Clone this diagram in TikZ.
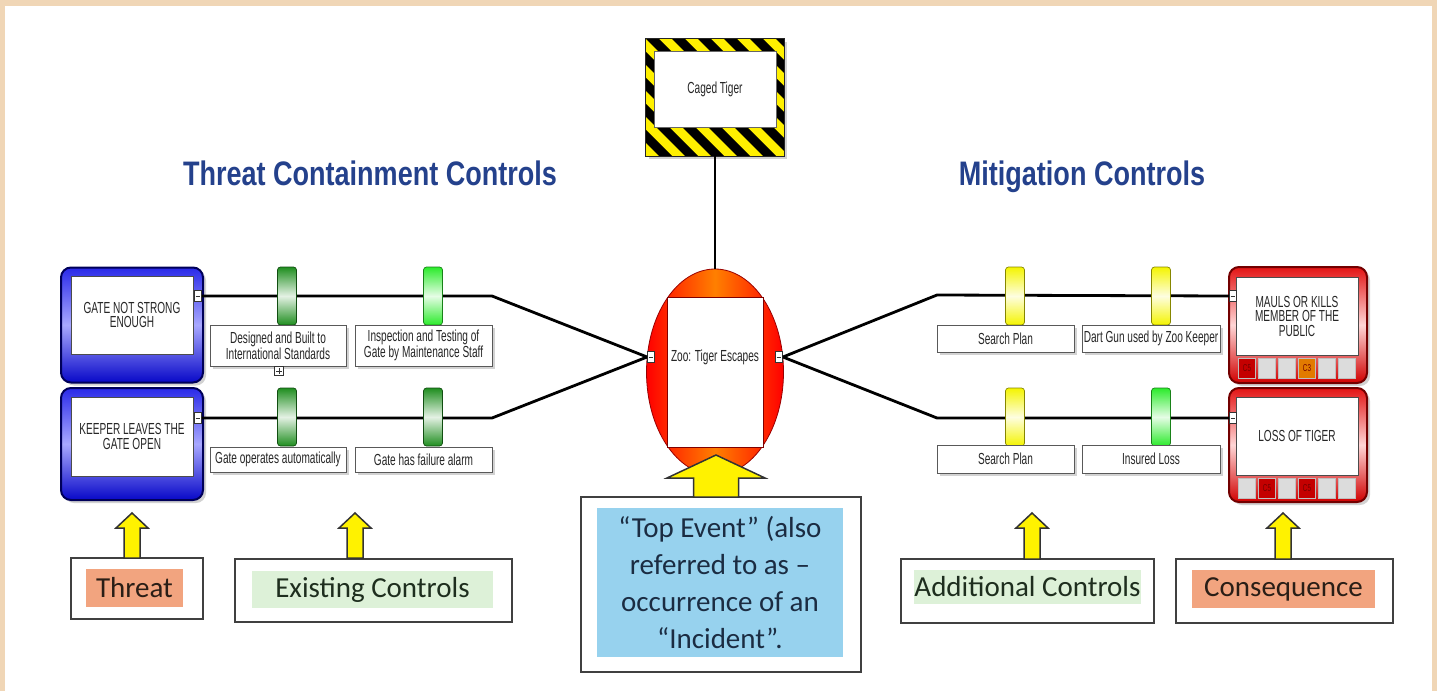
\documentclass[tikz,border=0pt]{standalone}
\usepackage{fontspec}
\setmainfont{Liberation Sans}
\newfontfamily\narfont[FakeStretch=0.63]{Liberation Sans}
\newfontfamily\ttlfont[FakeStretch=0.795]{Liberation Sans}
\newfontfamily\lblfont{Carlito}
\usetikzlibrary{shadows,shapes.geometric,calc}
\definecolor{beige}{HTML}{F0D6B6}
\definecolor{ttlblue}{HTML}{24418C}
\definecolor{salmon}{HTML}{F2A47F}
\definecolor{paleg}{HTML}{DDF1D8}
\definecolor{skyb}{HTML}{97D2EE}
\definecolor{navy}{HTML}{1B2C42}
\definecolor{dgreen}{HTML}{1F8E1F}
\definecolor{bgreen}{HTML}{2BEB2B}
\definecolor{yel}{HTML}{F4F400}
\definecolor{hazy}{HTML}{FFF000}
\definecolor{tblue}{HTML}{2A2AE8}
\definecolor{tbluelt}{HTML}{A8A8FF}
\definecolor{tbluedk}{HTML}{0808C8}
\definecolor{cred}{HTML}{E31414}
\definecolor{credlt}{HTML}{FFD6D6}
\definecolor{creddk}{HTML}{D00000}
\definecolor{cellg}{HTML}{DCDCDC}
\definecolor{cellr}{HTML}{C40000}
\definecolor{cello}{HTML}{E27A00}
\definecolor{lbldark}{HTML}{2A1E16}
\definecolor{lblgreen}{HTML}{1E2E1E}
\tikzset{
  smalltxt/.style={font=\narfont\fontsize{16}{14.5}\selectfont, align=center, text=black!85},
  ctrlbox/.style={smalltxt, draw=black!65, line width=0.9pt, fill=white, inner sep=0pt,
     drop shadow={shadow xshift=2.5pt, shadow yshift=-2.5pt, opacity=0.35}},
  barrier/.style={draw=#1!55!black, line width=0.7pt, rounded corners=3pt, minimum width=19pt,
     minimum height=58pt, inner sep=0pt, top color=#1, bottom color=#1, middle color=#1!12!white},
  link/.style={line width=2.8pt, black},
  port/.style={draw=black!80, fill=white, minimum width=7pt, minimum height=11pt, inner sep=0pt,
     line width=0.8pt, path picture={\draw[line width=0.7pt]
     ([xshift=1.2pt]path picture bounding box.west) -- ([xshift=-1.2pt]path picture bounding box.east);}},
  threatbox/.style={draw=blue!35!black, line width=2pt, rounded corners=10pt, minimum width=142pt,
     top color=tblue, bottom color=tbluedk, middle color=tbluelt, inner sep=0pt,
     drop shadow={shadow xshift=3pt, shadow yshift=-3pt, opacity=0.35}},
  consbox/.style={draw=red!45!black, line width=2pt, rounded corners=10pt, minimum width=138pt,
     top color=cred, bottom color=creddk, middle color=credlt, inner sep=0pt,
     drop shadow={shadow xshift=3pt, shadow yshift=-3pt, opacity=0.35}},
  innerw/.style={smalltxt, draw=black!70, line width=0.8pt, fill=white, minimum width=122pt,
     minimum height=78pt, inner sep=0pt},
  cell/.style={minimum width=17pt, minimum height=20pt, inner sep=0pt, fill=#1, draw=black!25,
     line width=0.5pt, font=\narfont\fontsize{10}{10}\selectfont, text=black!55!red},
  ttl/.style={font=\ttlfont\bfseries\fontsize{34}{34}\selectfont, text=ttlblue, inner sep=0pt},
  lblbox/.style={draw=black!75, line width=1.5pt, fill=white, inner sep=0pt},
  lbltext/.style={font=\lblfont\fontsize{29}{37}\selectfont, inner sep=0pt, align=center},
  blockarrow/.style={fill=yellow, draw=black!80, line width=1.5pt, line join=miter},
}
\begin{document}
\begin{tikzpicture}[x=1pt,y=-1pt]
\useasboundingbox (0,0) rectangle (1437,691);
\fill[beige] (0,0) rectangle (1437,691);
\fill[white] (5,6) rectangle (1432,691);

% titles
\node[ttl, anchor=base] (ttlL) at (370,185) {Threat Containment Controls};
\node[ttl, anchor=base] (ttlR) at (1082,185) {Mitigation Controls};

% caged tiger (hazard)
\node[fill=hazy, minimum width=138pt, minimum height=117pt, inner sep=0pt,
      drop shadow={shadow xshift=3pt, shadow yshift=-3pt, opacity=0.35}] (caged) at (715,97.5) {};
\begin{scope}
  \clip (caged.north west) rectangle (caged.south east);
  \foreach \i in {0,...,11}
    \fill[black] ($(caged.north west)+(\i*26-130,0)$) -- ++(13,0) -- ++(130,130) -- ++(-13,0) -- cycle;
\end{scope}
\draw[black!85, line width=1pt] (caged.north west) rectangle (caged.south east);
\node[smalltxt, fill=white, draw=black!60, line width=0.6pt, minimum width=122pt, minimum height=76pt,
      inner sep=0pt] (cagedin) at (715,89) {Caged Tiger};

% top event ellipse
\node[ellipse, minimum width=137pt, minimum height=206pt, draw=red!60!black, line width=0.8pt,
      left color=red, right color=red, middle color=orange, inner sep=0pt] (ell) at (715,372) {};
\node[fill=white, draw=red!50!black, line width=0.8pt, minimum width=96pt, minimum height=150pt,
      inner sep=0pt] (ellin) at (715,372) {};
\node[smalltxt] (topev) at (715,357) {Zoo: Tiger Escapes};
\draw[link] (caged.south) -- (ell.north);

% threat boxes
\node[threatbox, minimum height=115pt] (thr1) at (132,325) {};
\node[innerw] (thr1in) at (132,315) {GATE NOT STRONG\\ENOUGH};
\node[threatbox, minimum height=112pt] (thr2) at (132,444) {};
\node[innerw, minimum height=79pt] (thr2in) at (132,436.5) {KEEPER LEAVES THE\\GATE OPEN};

% consequence boxes
\node[consbox, minimum height=116pt] (con1) at (1298,325) {};
\node[innerw] (con1in) at (1297,316) {MAULS OR KILLS\\MEMBER OF THE\\PUBLIC};
\node[consbox, minimum height=114pt] (con2) at (1298,445) {};
\node[innerw] (con2in) at (1297,436) {LOSS OF TIGER};
\node[cell=cellr] (c1a) at (1247,368) {C5};
\node[cell=cellg] (c1b) at (1267,368) {};
\node[cell=cellg] (c1c) at (1287,368) {};
\node[cell=cello] (c1d) at (1307,368) {C3};
\node[cell=cellg] (c1e) at (1327,368) {};
\node[cell=cellg] (c1f) at (1347,368) {};
\node[cell=cellg] (c2a) at (1247,488) {};
\node[cell=cellr] (c2b) at (1267,488) {C5};
\node[cell=cellg] (c2c) at (1287,488) {};
\node[cell=cellr] (c2d) at (1307,488) {C5};
\node[cell=cellg] (c2e) at (1327,488) {};
\node[cell=cellg] (c2f) at (1347,488) {};

% ports
\node[port] (pT1) at (198,296) {};
\node[port] (pT2) at (198,418) {};
\node[port] (pEL) at (651,357) {};
\node[port] (pER) at (779,357) {};
\node[port] (pC1) at (1233,296) {};
\node[port] (pC2) at (1233,418) {};

% bend points
\coordinate (kL1) at (492,296);
\coordinate (kL2) at (492,418);
\coordinate (kR1) at (937,295);
\coordinate (kR2) at (937,418);

% links
\draw[link] (pT1.east) -- (kL1) -- (pEL.west);
\draw[link] (pT2.east) -- (kL2) -- (pEL.west);
\draw[link] (pER.east) -- (kR1) -- (pC1.west);
\draw[link] (pER.east) -- (kR2) -- (pC2.west);

% barriers
\node[barrier=dgreen] (bL1) at (287,296) {};
\node[barrier=bgreen] (bL2) at (433,296) {};
\node[barrier=dgreen] (bL3) at (287,417) {};
\node[barrier=dgreen] (bL4) at (433,417) {};
\node[barrier=yel] (bR1) at (1015,296) {};
\node[barrier=yel] (bR2) at (1161,296) {};
\node[barrier=yel] (bR3) at (1015,417) {};
\node[barrier=bgreen] (bR4) at (1161,417) {};

% control labels
\node[ctrlbox, minimum width=136pt, minimum height=41pt] (cL1) at (278,345.5) {Designed and Built to\\International Standards};
\node[ctrlbox, minimum width=137pt, minimum height=41pt] (cL2) at (423.5,345.5) {Inspection and Testing of\\Gate by Maintenance Staff};
\node[ctrlbox, minimum width=136pt, minimum height=25pt] (cL3) at (278,459.5) {Gate operates automatically};
\node[ctrlbox, minimum width=137pt, minimum height=25pt] (cL4) at (423.5,459.5) {Gate has failure alarm};
\node[ctrlbox, minimum width=137pt, minimum height=27pt] (cR1) at (1005.5,338.5) {Search Plan};
\node[ctrlbox, minimum width=138pt, minimum height=27pt] (cR2) at (1151,338.5) {Dart Gun used by Zoo Keeper};
\node[ctrlbox, minimum width=137pt, minimum height=28pt] (cR3) at (1005.5,459) {Search Plan};
\node[ctrlbox, minimum width=138pt, minimum height=28pt] (cR4) at (1151,459) {Insured Loss};
\node[draw=black!80, fill=white, minimum size=9pt, inner sep=0pt, line width=0.7pt,
      path picture={\draw[line width=0.7pt] ([xshift=1.5pt]path picture bounding box.west) -- ([xshift=-1.5pt]path picture bounding box.east);
                    \draw[line width=0.7pt] ([yshift=-1.5pt]path picture bounding box.north) -- ([yshift=1.5pt]path picture bounding box.south);}]
      (expand) at (279,371) {};

% bottom legend boxes
\node[lblbox, minimum width=132pt, minimum height=61pt] (thrbox) at (137,588.5) {};
\node[lbltext, fill=salmon, text=lbldark, minimum width=97pt, minimum height=38pt] (thrlbl) at (134.5,588) {Threat};
\node[lblbox, minimum width=277pt, minimum height=63pt] (exbox) at (373.5,590.5) {};
\node[lbltext, fill=paleg, text=lblgreen, minimum width=241pt, minimum height=37pt] (exlbl) at (372.5,589.5) {Existing Controls};
\node[lblbox, minimum width=280pt, minimum height=175pt] (tebox) at (721,584.5) {};
\node[lbltext, fill=skyb, text=navy, minimum width=246pt, minimum height=149pt] (telbl) at (720,582.5)
  {“Top Event” (also\\referred to as –\\occurrence of an\\“Incident”.};
\node[lblbox, minimum width=253pt, minimum height=64pt] (adbox) at (1027.5,591) {};
\node[lbltext, fill=paleg, text=lblgreen, minimum width=221pt, minimum height=34pt] (adlbl) at (1027.5,587) {Additional Controls};
\node[lblbox, minimum width=217pt, minimum height=64pt] (cobox) at (1284.5,591) {};
\node[lbltext, fill=salmon, text=lbldark, minimum width=183pt, minimum height=38pt] (colbl) at (1283.5,589) {Consequence};

% yellow block arrows
\draw[blockarrow] (124,558) -- (124,528) -- (116,528) -- (132,513) -- (148,528) -- (140,528) -- (140,558) -- cycle;
\draw[blockarrow] (347,558) -- (347,528) -- (339,528) -- (355,513) -- (371,528) -- (363,528) -- (363,558) -- cycle;
\draw[blockarrow] (693.5,497) -- (693.5,478) -- (667,478) -- (716,455) -- (765,478) -- (738.5,478) -- (738.5,497) -- cycle;
\draw[blockarrow] (1024,559) -- (1024,528) -- (1016,528) -- (1032,513) -- (1048,528) -- (1040,528) -- (1040,559) -- cycle;
\draw[blockarrow] (1275,559) -- (1275,528) -- (1267,528) -- (1283,513) -- (1299,528) -- (1291,528) -- (1291,559) -- cycle;
\end{tikzpicture}
\end{document}
